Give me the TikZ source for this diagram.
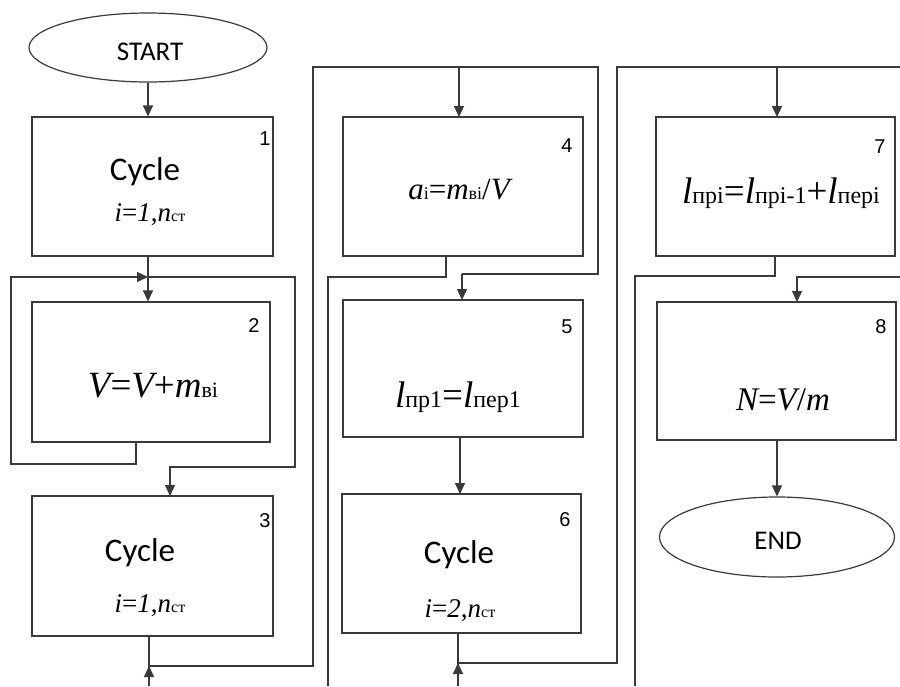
\documentclass[tikz,border=0pt]{standalone}
\usepackage{fontspec}
\setmainfont{Liberation Serif}
\newfontfamily\calib{Carlito}
\newfontfamily\arialf{Liberation Sans}
\newfontfamily\tms{Liberation Serif}
\usetikzlibrary{arrows.meta,shapes.geometric}
\definecolor{linec}{HTML}{3A3A3A}
\newcommand\fs[1]{\fontsize{#1}{#1}\selectfont}
\newcommand\itx[1]{{\itshape #1}}
\newcommand\sbs[2]{{\fs{#1}\upshape #2}}
\begin{document}
\begin{tikzpicture}[x=1pt,y=-1pt,
  box/.style={draw=linec, line width=1.2pt, rectangle, inner sep=0pt},
  oval/.style={draw=linec, line width=1.2pt, ellipse, inner sep=0pt},
  ln/.style={draw=linec, line width=1.2pt},
  arr/.style={ln, -{Triangle[length=11pt,width=10pt]}},
  num/.style={font=\arialf\fs{20}, inner sep=0pt},
  cyc/.style={font=\calib\fs{33}, inner sep=0pt},
  term/.style={font=\calib\fs{27}, inner sep=0pt},
  frm/.style={font=\tms, inner sep=0pt}]
\fill[white] (0,0) rectangle (900,686);
\useasboundingbox (0,0) rectangle (900,686);

% terminals
\node[oval, minimum width=238pt, minimum height=69pt] (start) at (148,47.5) {};
\node[term] (starttxt) at (150,52) {START};
\node[oval, minimum width=235pt, minimum height=80pt] (stop) at (777,537) {};
\node[term] (stoptxt) at (778,541) {END};

% boxes
\node[box, minimum width=241pt, minimum height=139pt] (b1) at (152.5,186.5) {};
\node[box, minimum width=238pt, minimum height=140pt] (b2) at (151,372) {};
\node[box, minimum width=241pt, minimum height=140pt] (b3) at (152.5,566) {};
\node[box, minimum width=240pt, minimum height=139pt] (b4) at (463,186.5) {};
\node[box, minimum width=240pt, minimum height=137pt] (b5) at (463,368.5) {};
\node[box, minimum width=239pt, minimum height=139pt] (b6) at (461.5,563.5) {};
\node[box, minimum width=239pt, minimum height=139pt] (b7) at (775.5,186.5) {};
\node[box, minimum width=239pt, minimum height=138pt] (b8) at (776.5,371) {};

% numbers
\node[num] (n1) at (265,139) {1};
\node[num] (n2) at (254,326) {2};
\node[num] (n3) at (265,521) {3};
\node[num] (n4) at (567,146) {4};
\node[num] (n5) at (567,327) {5};
\node[num] (n6) at (565,520) {6};
\node[num] (n7) at (880,147) {7};
\node[num] (n8) at (881,327) {8};

% texts
\node[cyc] (c1) at (145,172) {Cycle};
\node[frm] (f1) at (150,215) {\fs{27}\itx{i}=\itx{1},\itx{n}\sbs{16}{ст}};
\node[frm] (f2) at (153,386) {\fs{37}\itx{V}=\itx{V}+\itx{m}\sbs{22}{ві}};
\node[cyc] (c3) at (140,553) {Cycle};
\node[frm] (f3) at (150,606) {\fs{27}\itx{i}=\itx{1},\itx{n}\sbs{16}{ст}};
\node[frm] (f4) at (459,190) {\fs{31}\itx{a}\sbs{18}{і}=\itx{m}\sbs{18}{ві}/\itx{V}};
\node[frm] (f5) at (458,397) {\fs{37}\itx{l}\sbs{24}{пр1}=\itx{l}\sbs{24}{пер1}};
\node[cyc] (c6) at (459,555) {Cycle};
\node[frm] (f6) at (460,611) {\fs{27}\itx{i}=\itx{2},\itx{n}\sbs{16}{ст}};
\node[frm] (f7) at (781,193) {\fs{37}\itx{l}\sbs{24}{прі}=\itx{l}\sbs{24}{прі-1}+\itx{l}\sbs{24}{пері}};
\node[frm] (f8) at (783,400) {\fs{33}\itx{N}=\itx{V}/\itx{m}};

% junction coordinates
\coordinate (j1) at (148,277);
\coordinate (j3) at (149,666);
\coordinate (j6) at (458,663);
\coordinate (bot3) at (149,686);
\coordinate (bot6) at (458,686);
\coordinate (botA) at (328,686);
\coordinate (botB) at (635,686);
\coordinate (edgeT) at (900,67);
\coordinate (edgeM) at (900,277);

% column 1
\draw[arr] (start.south) -- (start.south |- b1.north);
\draw[arr] (start.south |- b1.south) -- (start.south |- b2.north);
\draw[arr] (136,442) -- (136,464) -- (11,464) -- (11,277) -- (j1);
\draw[arr] (j1) -- (295,277) -- (295,467) -- (170,467) -- (170,496);
\draw[ln] (149,636) -- (bot3);
\draw[arr] (bot3) -- (j3);

% column 2
\draw[ln] (j3) -- (313,666) -- (313,67) -- (598,67) -- (598,274) -- (462,274);
\draw[arr] (462,274) -- (462,300);
\draw[arr] (459,67) -- (459,117);
\draw[ln] (446,256) -- (446,277) -- (328,277) -- (botA);
\draw[arr] (460,437) -- (460,494);
\draw[ln] (458,633) -- (bot6);
\draw[arr] (bot6) -- (j6);

% column 3
\draw[ln] (j6) -- (617,663) -- (617,67) -- (edgeT);
\draw[arr] (777,67) -- (777,117);
\draw[ln] (775,256) -- (775,276) -- (635,276) -- (botB);
\draw[arr] (edgeM) -- (797,277) -- (797,302);
\draw[arr] (stop.north |- b8.south) -- (stop.north);
\end{tikzpicture}
\end{document}
